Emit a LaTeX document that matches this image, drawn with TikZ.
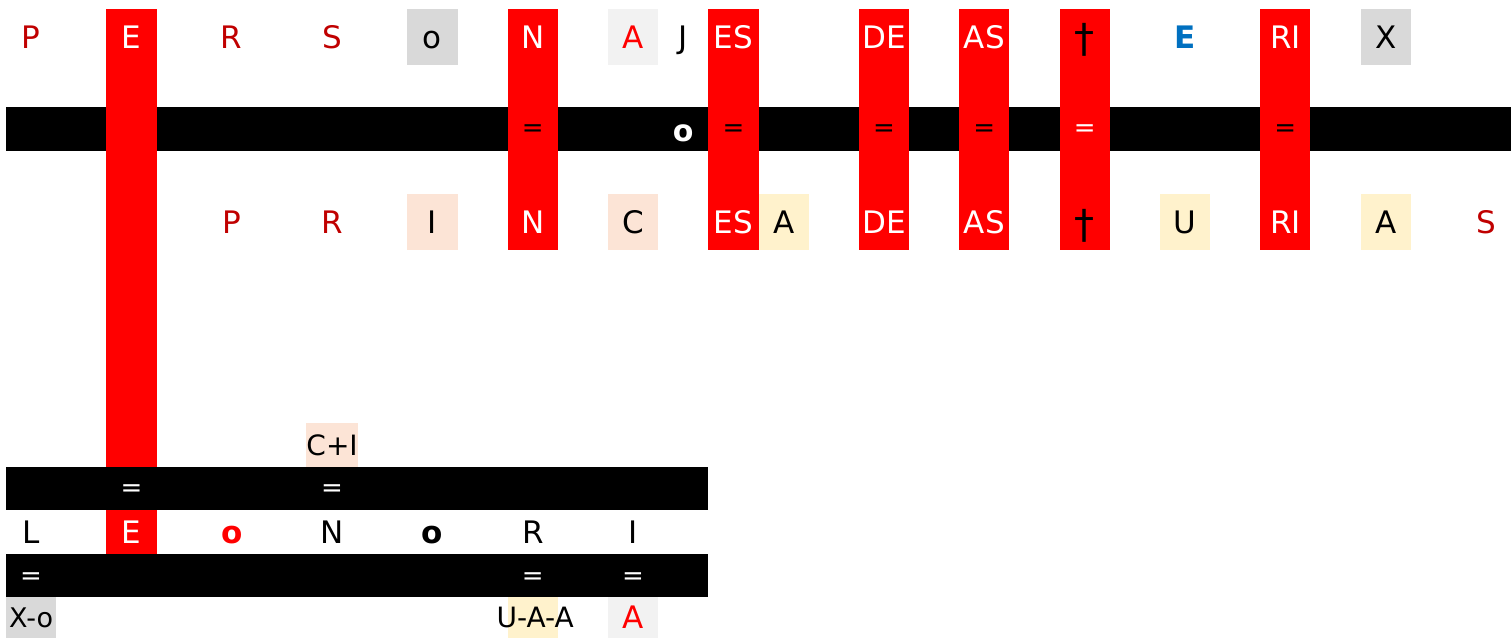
\documentclass[tikz,border=0pt]{standalone}
\usepackage{fontspec}
\setmainfont{DejaVu Sans}
\usetikzlibrary{positioning}

\definecolor{darkred}{HTML}{C00000}
\definecolor{cellred}{HTML}{FF0000}
\definecolor{blueE}{HTML}{0070C0}
\definecolor{grayX}{HTML}{D9D9D9}
\definecolor{grayA}{HTML}{F2F2F2}
\definecolor{peach}{HTML}{FCE4D6}
\definecolor{cream}{HTML}{FFF2CC}

\tikzset{
    cell/.style={inner sep=0pt, minimum width=50.17pt},
    big/.style={cell, minimum height=56pt, text height=22.6pt, text depth=0pt,
        font=\fontsize{31}{31}\selectfont},
    small/.style={cell, minimum height=43.5pt, text height=22.6pt, text depth=0pt,
        font=\fontsize{31}{31}\selectfont},
    eq/.style={cell, font=\fontsize{26}{26}\selectfont, text=white},
    dagger/.style={inner sep=0pt, font=\fontsize{40}{40}\selectfont},
}

\begin{document}
\begin{tikzpicture}[x=1pt,y=-1pt]
    \useasboundingbox (0,0) rectangle (1511,638);
    % black bars
    \fill[black] (6,107) rectangle (1511,151);
    \fill[black] (6,467) rectangle (708.4,510);
    \fill[black] (6,554) rectangle (708.4,597);
    % red columns
    \fill[cellred] ({6+50.17*2},9) rectangle ++(50.17,458);
    \foreach \k in {10,14,17,19,21,25}
        \fill[cellred] ({6+50.17*\k},9) rectangle ++(50.17,241);
    \fill[cream] ({6+50.17*10},597) rectangle ++(50.17,41);

    % top row
    \foreach \k/\t in {0/P,4/R,6/S}
        \node[big, text=darkred] (top\k) at ({31.08+50.17*\k},37) {\t};
    \foreach \k/\t in {2/E,10/N,14/ES,17/DE,19/AS,25/RI}
        \node[big, text=white] (top\k) at ({31.08+50.17*\k},37) {\t};
    \node[big, fill=grayX] (top8) at ({31.08+50.17*8},37) {o};
    \node[big, fill=grayA, text=cellred] (top12) at ({31.08+50.17*12},37) {A};
    \node[big] (top13) at ({31.08+50.17*13},37) {J};
    \node[dagger] (top21) at ({31.08+50.17*21},39.5) {†};
    \node[big, text=blueE, font=\fontsize{31}{31}\selectfont\bfseries] (top23)
        at ({31.08+50.17*23},37) {E};
    \node[big, fill=grayX] (top27) at ({31.08+50.17*27},37) {X};

    % equal signs on the upper bar
    \foreach \k in {10,14,17,19,25}
        \node[eq, text=black] (mid\k) at ({31.08+50.17*\k},131) {=};
    \node[eq] (mid21) at ({31.08+50.17*21},131) {=};
    \node[eq, font=\fontsize{30}{30}\selectfont\bfseries] (mid13)
        at ({31.08+50.17*13},133) {o};

    % second row
    \foreach \k/\t in {4/P,6/R,29/S}
        \node[big, text=darkred] (bot\k) at ({31.08+50.17*\k},222) {\t};
    \foreach \k/\t in {10/N,14/ES,17/DE,19/AS,25/RI}
        \node[big, text=white] (bot\k) at ({31.08+50.17*\k},222) {\t};
    \foreach \k/\t in {8/I,12/C}
        \node[big, fill=peach] (bot\k) at ({31.08+50.17*\k},222) {\t};
    \foreach \k/\t in {15/A,23/U,27/A}
        \node[big, fill=cream] (bot\k) at ({31.08+50.17*\k},222) {\t};
    \node[dagger] (bot21) at ({31.08+50.17*21},225.5) {†};

    % lower part
    \node[small, fill=peach, text height=20pt, font=\fontsize{28}{28}\selectfont] (ci)
        at ({31.08+50.17*6},445) {C+I};
    \foreach \k in {2,6}
        \node[eq] (upeq\k) at ({31.08+50.17*\k},491) {=};
    \node[small] (low0) at ({31.08+50.17*0},532) {L};
    \node[small, fill=cellred, text=white] (low2) at ({31.08+50.17*2},532) {E};
    \node[small, text=cellred, font=\fontsize{31}{31}\selectfont\bfseries] (low4)
        at ({31.08+50.17*4},532) {o};
    \node[small] (low6) at ({31.08+50.17*6},532) {N};
    \node[small, font=\fontsize{31}{31}\selectfont\bfseries] (low8)
        at ({31.08+50.17*8},532) {o};
    \node[small] (low10) at ({31.08+50.17*10},532) {R};
    \node[small] (low12) at ({31.08+50.17*12},532) {I};
    \foreach \k in {0,10,12}
        \node[eq] (dneq\k) at ({31.08+50.17*\k},579) {=};
    \node[small, minimum height=41pt, text height=20pt, fill=grayX,
        font=\fontsize{27}{27}\selectfont] (xo) at ({31.08+50.17*0},617.5) {X-o};
    \node[small, minimum height=41pt, text height=20pt,
        font=\fontsize{28}{28}\selectfont] (uaa) at ({33.5+50.17*10},617.5) {U-A-A};
    \node[small, minimum height=41pt, text height=21pt, fill=grayA, text=cellred]
        (last12) at ({31.08+50.17*12},617.5) {A};
\end{tikzpicture}
\end{document}
